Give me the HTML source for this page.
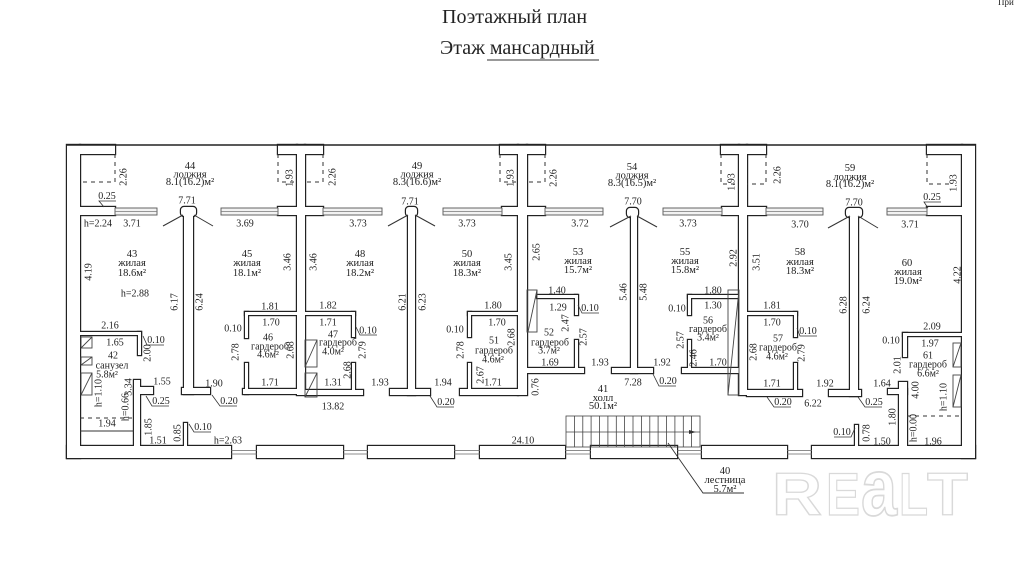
<!DOCTYPE html>
<html><head><meta charset="utf-8"><style>
html,body{margin:0;padding:0;background:#fff;width:1021px;height:572px;overflow:hidden}
svg{display:block}
text{font-family:"Liberation Serif","DejaVu Serif",serif;fill:#222}
.t{font-size:10px;text-anchor:middle}
.a{font-size:10.5px;text-anchor:middle}
.h{font-size:20px}
.wm text{font-family:"Liberation Sans",sans-serif;font-weight:bold;font-size:60px;fill:none;stroke:#d9d9d9;stroke-width:1.3}
</style></head><body>
<svg width="1021" height="572" viewBox="0 0 1021 572" xmlns="http://www.w3.org/2000/svg">
<defs>
<g id="W">
<rect x="67" y="145" width="13" height="313"/>
<rect x="962" y="145" width="13" height="313"/>
<rect x="67" y="446" width="164" height="12"/>
<rect x="257" y="446" width="86" height="12"/>
<rect x="368" y="446" width="86" height="12"/>
<rect x="480" y="446" width="85" height="12"/>
<rect x="591" y="446" width="86" height="12"/>
<rect x="702" y="446" width="85" height="12"/>
<rect x="812" y="446" width="163" height="12"/>
<rect x="297" y="145" width="8" height="250"/>
<rect x="518" y="145" width="9" height="250"/>
<rect x="739" y="145" width="8" height="250"/>
<rect x="80" y="207" width="35" height="8"/>
<rect x="278" y="207" width="19" height="8"/>
<rect x="305" y="207" width="18" height="8"/>
<rect x="502" y="207" width="16" height="8"/>
<rect x="527" y="207" width="18" height="8"/>
<rect x="722" y="207" width="17" height="8"/>
<rect x="747" y="207" width="19" height="8"/>
<rect x="927" y="207" width="35" height="8"/>
<rect x="80" y="145" width="35" height="9"/>
<rect x="278" y="145" width="19" height="9"/>
<rect x="305" y="145" width="18" height="9"/>
<rect x="500" y="145" width="18" height="9"/>
<rect x="527" y="145" width="18" height="9"/>
<rect x="721" y="145" width="18" height="9"/>
<rect x="747" y="145" width="19" height="9"/>
<rect x="927" y="145" width="35" height="9"/>
<rect x="184" y="214" width="9" height="180"/>
<rect x="182" y="388" width="28" height="6"/>
<rect x="408" y="214" width="7" height="181"/>
<rect x="390" y="389" width="40" height="6"/>
<rect x="631" y="214" width="6" height="159"/>
<rect x="612" y="368" width="41" height="5"/>
<rect x="850" y="214" width="8" height="182"/>
<rect x="829" y="390" width="32" height="6"/>
<rect x="181" y="207" width="15" height="9" rx="3"/>
<rect x="406" y="207" width="11" height="9" rx="3"/>
<rect x="627" y="208" width="11" height="9" rx="3"/>
<rect x="846" y="208" width="16" height="9" rx="3"/>
<rect x="245" y="312" width="52" height="3"/>
<rect x="245" y="312" width="3" height="26"/>
<rect x="245" y="363" width="3" height="31"/>
<rect x="243" y="389" width="54" height="5"/>
<rect x="305" y="312" width="50" height="3"/>
<rect x="352" y="312" width="3" height="25"/>
<rect x="352" y="363" width="3" height="27"/>
<rect x="305" y="390" width="58" height="5"/>
<rect x="468" y="312" width="50" height="3"/>
<rect x="468" y="312" width="3" height="25"/>
<rect x="468" y="363" width="3" height="27"/>
<rect x="460" y="389" width="58" height="6"/>
<rect x="537" y="295" width="40" height="3"/>
<rect x="575" y="295" width="3" height="20"/>
<rect x="575" y="340" width="3" height="28"/>
<rect x="527" y="368" width="57" height="5"/>
<rect x="688" y="295" width="51" height="3"/>
<rect x="688" y="295" width="3" height="20"/>
<rect x="688" y="340" width="3" height="28"/>
<rect x="682" y="368" width="57" height="5"/>
<rect x="747" y="312" width="50" height="3"/>
<rect x="794" y="312" width="3" height="25"/>
<rect x="794" y="363" width="3" height="27"/>
<rect x="747" y="390" width="55" height="6"/>
<rect x="903" y="333" width="59" height="3"/>
<rect x="903" y="333" width="4" height="24"/>
<rect x="899" y="382" width="8" height="64"/>
<rect x="888" y="389" width="19" height="5"/>
<rect x="80" y="332" width="61" height="3"/>
<rect x="138" y="332" width="3" height="23"/>
<rect x="134" y="380" width="6" height="66"/>
<rect x="134" y="387" width="19" height="7"/>
<rect x="184" y="423" width="3" height="23"/>
<rect x="855" y="425" width="3" height="21"/>
</g>
</defs>

<!-- walls -->
<use href="#W" fill="#222" stroke="#222" stroke-width="2.4"/>
<use href="#W" fill="#fff"/>
<line x1="67" y1="145" x2="975" y2="145" stroke="#222" stroke-width="1.5"/>

<!-- loggia windows -->
<g fill="#f2f2f2" stroke="#555" stroke-width="0.9">
<rect x="115" y="208" width="42" height="7"/>
<rect x="221" y="208" width="57" height="7"/>
<rect x="323" y="208" width="59" height="7"/>
<rect x="443" y="208" width="59" height="7"/>
<rect x="545" y="208" width="58" height="7"/>
<rect x="663" y="208" width="59" height="7"/>
<rect x="766" y="208" width="57" height="7"/>
<rect x="887" y="208" width="40" height="7"/>
</g>
<g stroke="#777" stroke-width="0.7">
<line x1="115" y1="211.5" x2="157" y2="211.5"/><line x1="221" y1="211.5" x2="278" y2="211.5"/>
<line x1="323" y1="211.5" x2="382" y2="211.5"/><line x1="443" y1="211.5" x2="502" y2="211.5"/>
<line x1="545" y1="211.5" x2="603" y2="211.5"/><line x1="663" y1="211.5" x2="722" y2="211.5"/>
<line x1="766" y1="211.5" x2="823" y2="211.5"/><line x1="887" y1="211.5" x2="927" y2="211.5"/>
</g>

<!-- bottom windows -->
<g stroke="#666" stroke-width="0.8">
<line x1="231" y1="450.5" x2="257" y2="450.5"/><line x1="231" y1="454" x2="257" y2="454"/>
<line x1="343" y1="450.5" x2="368" y2="450.5"/><line x1="343" y1="454" x2="368" y2="454"/>
<line x1="454" y1="450.5" x2="480" y2="450.5"/><line x1="454" y1="454" x2="480" y2="454"/>
<line x1="565" y1="450.5" x2="591" y2="450.5"/><line x1="565" y1="454" x2="591" y2="454"/>
<line x1="677" y1="450.5" x2="702" y2="450.5"/><line x1="677" y1="454" x2="702" y2="454"/>
<line x1="787" y1="450.5" x2="812" y2="450.5"/><line x1="787" y1="454" x2="812" y2="454"/>
</g>

<!-- roof diagonals -->
<g stroke="#333" stroke-width="1">
<line x1="183" y1="215" x2="163" y2="226"/><line x1="194" y1="215" x2="213" y2="226"/>
<line x1="408" y1="215" x2="388" y2="226"/><line x1="415" y1="215" x2="435" y2="226"/>
<line x1="631" y1="216" x2="610" y2="227"/><line x1="637" y1="216" x2="657" y2="227"/>
<line x1="850" y1="216" x2="828" y2="228"/><line x1="858" y1="216" x2="878" y2="228"/>
</g>

<!-- dashed lines -->
<g stroke="#333" stroke-width="1" stroke-dasharray="4,4" fill="none">
<polyline points="115,154 115,182 80,182"/>
<polyline points="278,154 278,182 297,182"/>
<polyline points="323,154 323,182 305,182"/>
<polyline points="500,154 500,182 518,182"/>
<polyline points="545,154 545,182 527,182"/>
<polyline points="721,154 721,184 739,184"/>
<polyline points="766,154 766,184 747,184"/>
<polyline points="927,154 927,184 950,184"/>
<line x1="80" y1="418" x2="134" y2="418"/>
<line x1="907" y1="416" x2="962" y2="416"/>
</g>
<line x1="80" y1="431" x2="134" y2="431" stroke="#333" stroke-width="1"/>

<!-- hatched boxes -->
<g stroke="#444" stroke-width="0.9" fill="none">
<rect x="81" y="337" width="11" height="11"/><line x1="81" y1="348" x2="92" y2="337"/>
<rect x="81" y="357" width="11" height="8"/><line x1="81" y1="365" x2="92" y2="357"/>
<rect x="81" y="373" width="11" height="22"/><line x1="81" y1="395" x2="92" y2="373"/>
<rect x="305" y="340" width="12" height="27"/><line x1="305" y1="367" x2="317" y2="340"/>
<rect x="305" y="373" width="12" height="24"/><line x1="305" y1="397" x2="317" y2="373"/>
<rect x="953" y="343" width="8" height="24"/><line x1="953" y1="367" x2="961" y2="343"/>
<rect x="953" y="375" width="8" height="32"/><line x1="953" y1="407" x2="961" y2="375"/>
<rect x="527" y="290" width="10" height="42"/><line x1="528" y1="332" x2="537" y2="290"/>
<rect x="728" y="290" width="11" height="105"/><line x1="728" y1="395" x2="739" y2="290"/>
</g>

<!-- stairs -->
<g stroke="#444" stroke-width="0.8" fill="none">
<rect x="566" y="416" width="134" height="31"/>
<line x1="566" y1="432" x2="700" y2="432"/>
<line x1="574.4" y1="416" x2="574.4" y2="447"/><line x1="582.8" y1="416" x2="582.8" y2="447"/>
<line x1="591.1" y1="416" x2="591.1" y2="447"/><line x1="599.5" y1="416" x2="599.5" y2="447"/>
<line x1="607.9" y1="416" x2="607.9" y2="447"/><line x1="616.3" y1="416" x2="616.3" y2="447"/>
<line x1="624.6" y1="416" x2="624.6" y2="447"/><line x1="633" y1="416" x2="633" y2="447"/>
<line x1="641.4" y1="416" x2="641.4" y2="447"/><line x1="649.8" y1="416" x2="649.8" y2="447"/>
<line x1="658.1" y1="416" x2="658.1" y2="447"/><line x1="666.5" y1="416" x2="666.5" y2="447"/>
<line x1="674.9" y1="416" x2="674.9" y2="447"/><line x1="683.3" y1="416" x2="683.3" y2="447"/>
<line x1="691.6" y1="416" x2="691.6" y2="447"/>
<polyline points="668,443 703,493 744,493" stroke="#333" stroke-width="0.9"/>
</g>
<polygon points="689,430 696,432 689,434" fill="#333"/>

<!-- leader lines for small labels -->
<g stroke="#333" stroke-width="0.8" fill="none">
<polyline points="116,201 99,201 104,207"/>
<polyline points="941,202 924,202 928,208"/>
<polyline points="164,345 147,345 143,336"/>
<polyline points="169,406 152,406 146,396"/>
<polyline points="211,432 194,432 189,424"/>
<polyline points="237,406 220,406 212,395"/>
<polyline points="377,335 360,335 356,327"/>
<polyline points="454,407 437,407 430,396"/>
<polyline points="599,313 582,313 578,305"/>
<polyline points="676,386 659,386 653,374"/>
<polyline points="817,336 800,336 797,328"/>
<polyline points="791,407 774,407 767,397"/>
<polyline points="882,407 865,407 858,397"/>
<polyline points="834,437 851,437 855,428"/>
</g>

<!-- titles -->
<text class="h" x="442" y="23">Поэтажный план</text>
<text class="h" x="440" y="54">Этаж мансардный</text>
<line x1="487" y1="60" x2="599" y2="60" stroke="#333" stroke-width="1"/>
<text x="998" y="5" style="font-size:9px">При</text>

<!-- loggias -->
<text class="a" x="190" y="169">44</text><text class="a" x="190" y="177.5">лоджия</text><text class="a" x="190" y="185">8.1(16.2)м²</text>
<text class="a" x="417" y="169">49</text><text class="a" x="417" y="177.5">лоджия</text><text class="a" x="417" y="185">8.3(16.6)м²</text>
<text class="a" x="632" y="170">54</text><text class="a" x="632" y="178.5">лоджия</text><text class="a" x="632" y="186">8.3(16.5)м²</text>
<text class="a" x="850" y="171">59</text><text class="a" x="850" y="180">лоджия</text><text class="a" x="850" y="187">8.1(16.2)м²</text>
<text class="t" x="187" y="203.5">7.71</text>
<text class="t" x="410" y="204.5">7.71</text>
<text class="t" x="633" y="204.5">7.70</text>
<text class="t" x="854" y="205.5">7.70</text>
<text class="t" x="107" y="199">0.25</text>
<text class="t" x="932" y="200">0.25</text>

<!-- rotated loggia dims -->
<text class="t" x="123" y="180.5" transform="rotate(-90 123 177)">2.26</text>
<text class="t" x="289" y="181.5" transform="rotate(-90 289 178)">1.93</text>
<text class="t" x="332" y="180.5" transform="rotate(-90 332 177)">2.26</text>
<text class="t" x="510" y="181.5" transform="rotate(-90 510 178)">1.93</text>
<text class="t" x="553" y="181.5" transform="rotate(-90 553 178)">2.26</text>
<text class="t" x="731" y="185.5" transform="rotate(-90 731 182)">1.93</text>
<text class="t" x="777" y="178.5" transform="rotate(-90 777 175)">2.26</text>
<text class="t" x="953" y="186.5" transform="rotate(-90 953 183)">1.93</text>

<!-- row of widths -->
<text class="t" x="98" y="226.5">h=2.24</text>
<text class="t" x="132" y="226.5">3.71</text>
<text class="t" x="245" y="226.5">3.69</text>
<text class="t" x="358" y="226.5">3.73</text>
<text class="t" x="467" y="226.5">3.73</text>
<text class="t" x="580" y="226.5">3.72</text>
<text class="t" x="688" y="226.5">3.73</text>
<text class="t" x="800" y="227.5">3.70</text>
<text class="t" x="910" y="227.5">3.71</text>

<!-- rooms -->
<text class="a" x="132" y="257">43</text><text class="a" x="132" y="266">жилая</text><text class="a" x="132" y="276">18.6м²</text>
<text class="a" x="247" y="257">45</text><text class="a" x="247" y="266">жилая</text><text class="a" x="247" y="276">18.1м²</text>
<text class="a" x="360" y="257">48</text><text class="a" x="360" y="266">жилая</text><text class="a" x="360" y="276">18.2м²</text>
<text class="a" x="467" y="257">50</text><text class="a" x="467" y="266">жилая</text><text class="a" x="467" y="276">18.3м²</text>
<text class="a" x="578" y="255">53</text><text class="a" x="578" y="264">жилая</text><text class="a" x="578" y="273">15.7м²</text>
<text class="a" x="685" y="255">55</text><text class="a" x="685" y="264">жилая</text><text class="a" x="685" y="273">15.8м²</text>
<text class="a" x="800" y="255">58</text><text class="a" x="800" y="265">жилая</text><text class="a" x="800" y="274">18.3м²</text>
<text class="a" x="907" y="266">60</text><text class="a" x="908" y="275">жилая</text><text class="a" x="908" y="284">19.0м²</text>
<text class="t" x="135" y="296.5">h=2.88</text>

<!-- rotated room dims -->
<text class="t" x="88" y="275.5" transform="rotate(-90 88 272)">4.19</text>
<text class="t" x="957" y="278.5" transform="rotate(-90 957 275)">4.22</text>
<text class="t" x="287" y="265.5" transform="rotate(-90 287 262)">3.46</text>
<text class="t" x="313" y="265.5" transform="rotate(-90 313 262)">3.46</text>
<text class="t" x="508" y="265.5" transform="rotate(-90 508 262)">3.45</text>
<text class="t" x="536" y="255.5" transform="rotate(-90 536 252)">2.65</text>
<text class="t" x="733" y="261.5" transform="rotate(-90 733 258)">2.92</text>
<text class="t" x="756" y="265.5" transform="rotate(-90 756 262)">3.51</text>
<text class="t" x="174" y="305.5" transform="rotate(-90 174 302)">6.17</text>
<text class="t" x="199" y="305.5" transform="rotate(-90 199 302)">6.24</text>
<text class="t" x="402" y="305.5" transform="rotate(-90 402 302)">6.21</text>
<text class="t" x="422" y="305.5" transform="rotate(-90 422 302)">6.23</text>
<text class="t" x="623" y="295.5" transform="rotate(-90 623 292)">5.46</text>
<text class="t" x="643" y="295.5" transform="rotate(-90 643 292)">5.48</text>
<text class="t" x="843" y="308.5" transform="rotate(-90 843 305)">6.28</text>
<text class="t" x="866" y="308.5" transform="rotate(-90 866 305)">6.24</text>

<!-- wardrobe 46 -->
<text class="t" x="270" y="309.5">1.81</text>
<text class="t" x="271" y="325.5">1.70</text>
<text class="t" x="233" y="331.5">0.10</text>
<text class="t" x="268" y="340.5">46</text>
<text class="t" x="270" y="349.5">гардероб</text>
<text class="t" x="268" y="357.5">4.6м²</text>
<text class="t" x="235" y="355.5" transform="rotate(-90 235 352)">2.78</text>
<text class="t" x="290" y="353.5" transform="rotate(-90 290 350)">2.68</text>
<text class="t" x="270" y="385.5">1.71</text>
<!-- wardrobe 47 -->
<text class="t" x="328" y="308.5">1.82</text>
<text class="t" x="328" y="325.5">1.71</text>
<text class="t" x="368" y="333.5">0.10</text>
<text class="t" x="333" y="337.5">47</text>
<text class="t" x="338" y="345.5">гардероб</text>
<text class="t" x="333" y="354.5">4.0м²</text>
<text class="t" x="362" y="353.5" transform="rotate(-90 362 350)">2.79</text>
<text class="t" x="347" y="373.5" transform="rotate(-90 347 370)">2.68</text>
<text class="t" x="333" y="385.5">1.31</text>
<text class="t" x="333" y="409.5">13.82</text>
<text class="t" x="380" y="385.5">1.93</text>
<text class="t" x="443" y="385.5">1.94</text>
<text class="t" x="446" y="405">0.20</text>
<!-- wardrobe 51 -->
<text class="t" x="493" y="308.5">1.80</text>
<text class="t" x="497" y="325.5">1.70</text>
<text class="t" x="455" y="332.5">0.10</text>
<text class="t" x="494" y="343.5">51</text>
<text class="t" x="494" y="353.5">гардероб</text>
<text class="t" x="493" y="362.5">4.6м²</text>
<text class="t" x="460" y="353.5" transform="rotate(-90 460 350)">2.78</text>
<text class="t" x="511" y="340.5" transform="rotate(-90 511 337)">2.68</text>
<text class="t" x="480" y="378.5" transform="rotate(-90 480 375)">2.67</text>
<text class="t" x="493" y="385.5">1.71</text>
<text class="t" x="535" y="390.5" transform="rotate(-90 535 387)">0.76</text>
<!-- wardrobe 52 -->
<text class="t" x="557" y="293.5">1.40</text>
<text class="t" x="558" y="310.5">1.29</text>
<text class="t" x="590" y="311">0.10</text>
<text class="t" x="549" y="335.5">52</text>
<text class="t" x="550" y="345.5">гардероб</text>
<text class="t" x="549" y="353.5">3.7м²</text>
<text class="t" x="565" y="326.5" transform="rotate(-90 565 323)">2.47</text>
<text class="t" x="583" y="340.5" transform="rotate(-90 583 337)">2.57</text>
<text class="t" x="550" y="365.5">1.69</text>
<text class="t" x="600" y="365.5">1.93</text>
<text class="t" x="662" y="365.5">1.92</text>
<text class="t" x="633" y="385.5">7.28</text>
<text class="t" x="668" y="384">0.20</text>
<!-- wardrobe 56 -->
<text class="t" x="713" y="293.5">1.80</text>
<text class="t" x="677" y="311.5">0.10</text>
<text class="t" x="713" y="308.5">1.30</text>
<text class="t" x="708" y="323.5">56</text>
<text class="t" x="708" y="332">гардероб</text>
<text class="t" x="708" y="340.5">3.4м²</text>
<text class="t" x="680" y="343.5" transform="rotate(-90 680 340)">2.57</text>
<text class="t" x="693" y="361.5" transform="rotate(-90 693 358)">2.46</text>
<text class="t" x="718" y="365.5">1.70</text>
<!-- hall -->
<text class="a" x="603" y="392">41</text>
<text class="a" x="603" y="401">холл</text>
<text class="a" x="603" y="409">50.1м²</text>
<!-- wardrobe 57 -->
<text class="t" x="772" y="308.5">1.81</text>
<text class="t" x="772" y="325.5">1.70</text>
<text class="t" x="808" y="334">0.10</text>
<text class="t" x="778" y="341.5">57</text>
<text class="t" x="778" y="350.5">гардероб</text>
<text class="t" x="777" y="359.5">4.6м²</text>
<text class="t" x="753" y="355.5" transform="rotate(-90 753 352)">2.68</text>
<text class="t" x="801" y="356.5" transform="rotate(-90 801 353)">2.79</text>
<text class="t" x="772" y="386.5">1.71</text>
<text class="t" x="783" y="405">0.20</text>
<text class="t" x="813" y="406.5">6.22</text>
<text class="t" x="825" y="386.5">1.92</text>
<text class="t" x="874" y="405">0.25</text>
<!-- wardrobe 61 -->
<text class="t" x="932" y="329.5">2.09</text>
<text class="t" x="891" y="343.5">0.10</text>
<text class="t" x="930" y="346.5">1.97</text>
<text class="t" x="928" y="358.5">61</text>
<text class="t" x="928" y="367.5">гардероб</text>
<text class="t" x="928" y="376.5">6.6м²</text>
<text class="t" x="897" y="368.5" transform="rotate(-90 897 365)">2.01</text>
<text class="t" x="882" y="386.5">1.64</text>
<text class="t" x="915" y="393.5" transform="rotate(-90 915 390)">4.00</text>
<text class="t" x="943" y="400.5" transform="rotate(-90 943 397)">h=1.10</text>
<text class="t" x="892" y="420.5" transform="rotate(-90 892 417)">1.80</text>
<text class="t" x="913" y="431.5" transform="rotate(-90 913 428)">h=0.00</text>
<text class="t" x="933" y="444.5">1.96</text>
<text class="t" x="842" y="435">0.10</text>
<text class="t" x="866" y="436.5" transform="rotate(-90 866 433)">0.78</text>
<text class="t" x="882" y="444.5">1.50</text>
<!-- room 42 -->
<text class="t" x="110" y="328.5">2.16</text>
<text class="t" x="115" y="345.5">1.65</text>
<text class="t" x="156" y="343">0.10</text>
<text class="t" x="147" y="356.5" transform="rotate(-90 147 353)">2.00</text>
<text class="t" x="113" y="358.5">42</text>
<text class="t" x="112" y="368.5">санузел</text>
<text class="t" x="107" y="377.5">5.8м²</text>
<text class="t" x="128" y="390.5" transform="rotate(-90 128 387)">3.34</text>
<text class="t" x="98" y="396.5" transform="rotate(-90 98 393)">h=1.10</text>
<text class="t" x="125" y="410.5" transform="rotate(-90 125 407)">h=0.66</text>
<text class="t" x="107" y="426.5">1.94</text>
<text class="t" x="162" y="384.5">1.55</text>
<text class="t" x="161" y="404">0.25</text>
<text class="t" x="148" y="430.5" transform="rotate(-90 148 427)">1.85</text>
<text class="t" x="158" y="443.5">1.51</text>
<text class="t" x="177" y="436.5" transform="rotate(-90 177 433)">0.85</text>
<text class="t" x="203" y="430">0.10</text>
<text class="t" x="228" y="443.5">h=2.63</text>
<text class="t" x="214" y="386.5">1.90</text>
<text class="t" x="229" y="404">0.20</text>
<text class="t" x="523" y="443.5">24.10</text>
<!-- stairs label -->
<text class="a" x="725" y="474">40</text>
<text class="a" x="725" y="483">лестница</text>
<text class="a" x="725" y="492">5.7м²</text>

<!-- watermark -->
<g class="wm">
<text x="772" y="515" textLength="50" lengthAdjust="spacingAndGlyphs">R</text>
<text x="826" y="515" textLength="34" lengthAdjust="spacingAndGlyphs">E</text>
<text x="0" y="0" textLength="36" lengthAdjust="spacingAndGlyphs" transform="translate(861 515) scale(1 1.35)">a</text>
<text x="899" y="515" textLength="29" lengthAdjust="spacingAndGlyphs">L</text>
<text x="927" y="515" textLength="41" lengthAdjust="spacingAndGlyphs">T</text>
</g>
</svg>
</body></html>
